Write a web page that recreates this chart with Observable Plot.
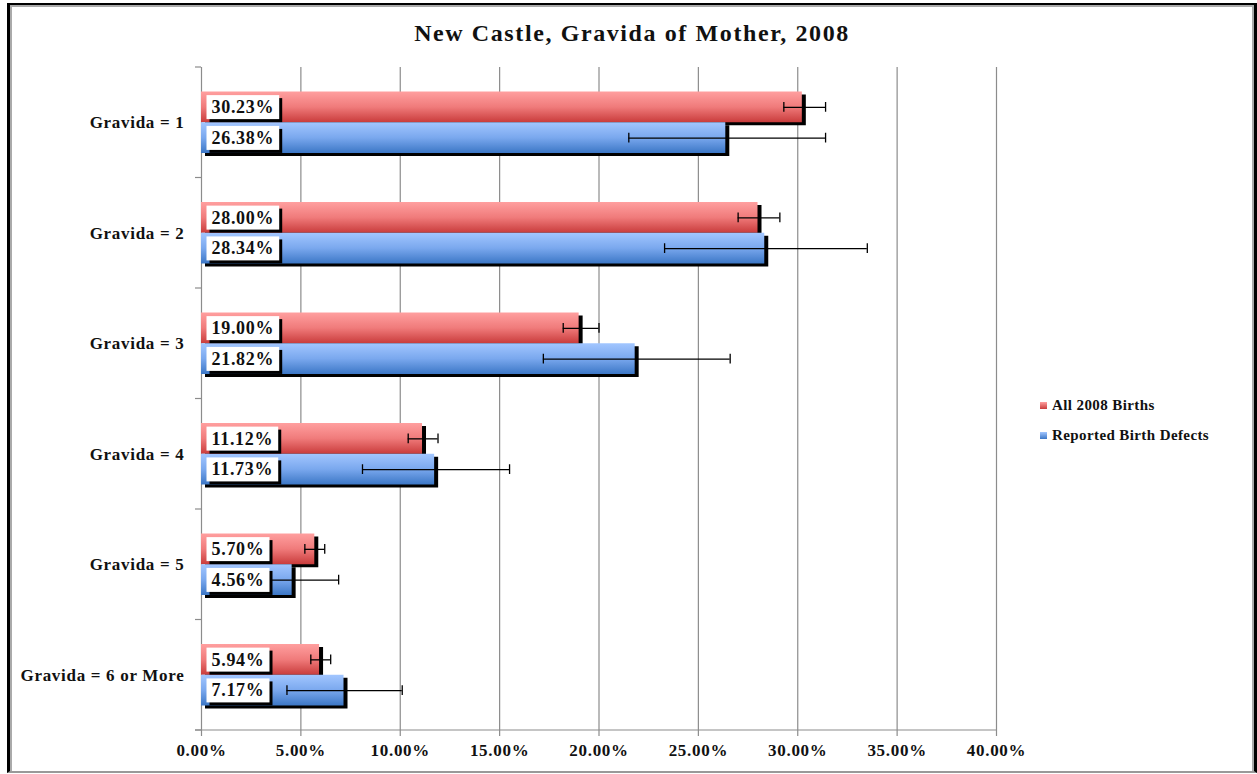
<!DOCTYPE html>
<html>
<head>
<meta charset="utf-8">
<script src="https://cdn.jsdelivr.net/npm/d3@7"></script>
<script src="https://cdn.jsdelivr.net/npm/@observablehq/plot@0.6"></script>
<style>
  html, body { margin: 0; padding: 0; background: #fff; }
  body { width: 1257px; height: 774px; position: relative; overflow: hidden; font-family: "Liberation Serif", "Times New Roman", serif; }
  #chart { position: absolute; left: 0; top: 0; }
  #title { position: absolute; left: 0; top: 19px; width: 1264px; text-align: center; font-size: 24px; font-weight: bold; letter-spacing: 1.6px; color: #111; line-height: 28px; }
  #legend { position: absolute; left: 1040px; top: 390px; color: #111; font-size: 15px; font-weight: bold; letter-spacing: 0.4px; }
  #legend .item { display: flex; align-items: center; height: 30px; line-height: 20px; }
  #legend .sw { width: 7px; height: 7px; margin-right: 5px; }
  #frame { position: absolute; left: 7px; top: 3px; width: 1250px; height: 770px; box-sizing: border-box;
           border-left: 3px solid #000; border-top: 2px solid #000; border-right: 3px solid #000; border-bottom: 2px solid #999; pointer-events: none; }
  #frame::after { content: ""; position: absolute; left: 0; top: 0; right: 0; bottom: 0;
           border-left: 2px solid #aaa; border-top: 2px solid #aaa; border-right: 2px solid #aaa; }
</style>
</head>
<body>
<div id="chart"></div>
<div id="title">New Castle, Gravida of Mother, 2008</div>
<div id="legend"></div>
<div id="frame"></div>
<script>
// ---- data ----
const categories = ["Gravida = 1", "Gravida = 2", "Gravida = 3", "Gravida = 4", "Gravida = 5", "Gravida = 6 or More"];
const seriesNames = ["All 2008 Births", "Reported Birth Defects"];
const allBirths      = [30.23, 28.00, 19.00, 11.12, 5.70, 5.94];
const allBirthsLow   = [29.30, 27.00, 18.20, 10.40, 5.20, 5.50];
const allBirthsHigh  = [31.40, 29.10, 20.00, 11.90, 6.20, 6.50];
const birthDefects     = [26.38, 28.34, 21.82, 11.73, 4.56, 7.17];
const birthDefectsLow  = [21.50, 23.30, 17.20, 8.10, 3.50, 4.30];
const birthDefectsHigh = [31.40, 33.50, 26.60, 15.50, 6.90, 10.10];
const xTicks = [0, 0.05, 0.10, 0.15, 0.20, 0.25, 0.30, 0.35, 0.40];

// ---- table ----
const seriesData = [
  {name: seriesNames[0], values: allBirths, low: allBirthsLow, high: allBirthsHigh},
  {name: seriesNames[1], values: birthDefects, low: birthDefectsLow, high: birthDefectsHigh}
];
const rows = seriesData.flatMap(s => categories.map((c, i) => ({
  cat: c, series: s.name, value: s.values[i] / 100, low: s.low[i] / 100, high: s.high[i] / 100
})));

// ---- styles ----
const style = {
  [seriesNames[0]]: {grad: "gradRed",  insetTop: 24.5,  insetBottom: 55.25, dy: -15.4, stops: ["#ff9f9f", "#f07b7b", "#c93c3c"]},
  [seriesNames[1]]: {grad: "gradBlue", insetTop: 55.25, insetBottom: 24.5,  dy: 15.4,  stops: ["#a2c6ff", "#7aa8ee", "#3c77c6"]}
};
const ns = "http://www.w3.org/2000/svg";
const serif = "Liberation Serif, Times New Roman, serif";
const LABEL_FILL = "#101010";

function defsMark() {
  const g = document.createElementNS(ns, "g");
  const defs = document.createElementNS(ns, "defs");
  for (const name of seriesNames) {
    const s = style[name];
    const lg = document.createElementNS(ns, "linearGradient");
    lg.setAttribute("id", s.grad);
    lg.setAttribute("x1", "0"); lg.setAttribute("y1", "0");
    lg.setAttribute("x2", "0"); lg.setAttribute("y2", "1");
    s.stops.forEach((col, k) => {
      const st = document.createElementNS(ns, "stop");
      st.setAttribute("offset", (k / (s.stops.length - 1) * 100) + "%");
      st.setAttribute("stop-color", col);
      lg.appendChild(st);
    });
    defs.appendChild(lg);
  }
  g.appendChild(defs);
  return g;
}

function axisDecor(index, scales, values, dims) {
  const {width, height, marginTop, marginBottom, marginLeft, marginRight} = dims;
  const g = document.createElementNS(ns, "g");
  const line = (x1, y1, x2, y2) => {
    const l = document.createElementNS(ns, "line");
    l.setAttribute("x1", x1); l.setAttribute("y1", y1);
    l.setAttribute("x2", x2); l.setAttribute("y2", y2);
    l.setAttribute("stroke", "#8c8c8c"); l.setAttribute("stroke-width", 1.2);
    g.appendChild(l);
  };
  const yb = height - marginBottom;
  line(marginLeft - 6, yb, width - marginRight, yb);
  const step = (height - marginTop - marginBottom) / categories.length;
  for (let k = 0; k <= categories.length; k++) {
    const y = marginTop + k * step;
    line(marginLeft - 6, y, marginLeft, y);
  }
  return g;
}

const seriesMarks = seriesNames.flatMap(name => {
  const s = style[name];
  const data = rows.filter(d => d.series === name);
  return [
    Plot.barX(data, {x: "value", y: "cat", fill: "#000", dx: 4, dy: 3, insetTop: s.insetTop, insetBottom: s.insetBottom}),
    Plot.barX(data, {x: "value", y: "cat", fill: `url(#${s.grad})`, insetTop: s.insetTop, insetBottom: s.insetBottom})
  ];
});

const errorMarks = seriesNames.flatMap(name => {
  const s = style[name];
  const data = rows.filter(d => d.series === name);
  const capTop = s.insetTop + 15.5 - 5;
  const capBottom = s.insetBottom + 15.5 - 5;
  return [
    Plot.ruleY(data, {y: "cat", x1: "low", x2: "high", dy: s.dy, stroke: "#000", strokeWidth: 1.3}),
    Plot.tickX(data, {x: "low", y: "cat", insetTop: capTop, insetBottom: capBottom, stroke: "#000", strokeWidth: 1.3}),
    Plot.tickX(data, {x: "high", y: "cat", insetTop: capTop, insetBottom: capBottom, stroke: "#000", strokeWidth: 1.3})
  ];
});

const labelMarks = seriesNames.map(name => {
  const s = style[name];
  const data = rows.filter(d => d.series === name);
  return Plot.text(data, {
    y: "cat", frameAnchor: "left", textAnchor: "start", dx: 10, dy: s.dy,
    text: d => d3.format(".2f")(d.value * 100) + "%",
    fontSize: 18, fontWeight: "bold", fill: LABEL_FILL
  });
});

const chart = Plot.plot({
  width: 1257,
  height: 774,
  marginLeft: 201,
  marginRight: 261,
  marginTop: 67,
  marginBottom: 44,
  style: {background: "transparent", fontFamily: serif, fontSize: "17px", fontWeight: "bold", color: "#111", overflow: "visible", letterSpacing: "0.7px"},
  x: {domain: [0, 0.40], ticks: xTicks, tickFormat: d3.format(".2%"), tickSize: 0, tickPadding: 13, label: null},
  y: {domain: categories, padding: 0, round: false, tickSize: 0, tickPadding: 17, label: null},
  marks: [
    defsMark,
    Plot.ruleX(xTicks, {stroke: "#8c8c8c", strokeWidth: 1.2, insetBottom: -6}),
    axisDecor,
    ...seriesMarks,
    ...errorMarks,
    ...labelMarks
  ]
});
document.getElementById("chart").appendChild(chart);

// white label boxes with drop shadow behind the value labels
const svgRect = chart.getBoundingClientRect();
const labelTexts = Array.from(chart.querySelectorAll("text")).filter(t => {
  const own = t.getAttribute("fill");
  const grp = t.closest("g[fill]");
  return own === LABEL_FILL || (grp && grp.getAttribute("fill") === LABEL_FILL);
});
if (labelTexts.length) {
  const boxes = document.createElementNS(ns, "g");
  labelTexts.forEach(t => {
    const r = t.getBoundingClientRect();
    const x = r.left - svgRect.left - 5;
    const w = r.width + 10;
    const cy = r.top - svgRect.top + r.height / 2;
    const y = cy - 12;
    const sh = document.createElementNS(ns, "rect");
    sh.setAttribute("x", x + 3); sh.setAttribute("y", y + 3);
    sh.setAttribute("width", w); sh.setAttribute("height", 24);
    sh.setAttribute("fill", "#000");
    const bx = document.createElementNS(ns, "rect");
    bx.setAttribute("x", x); bx.setAttribute("y", y);
    bx.setAttribute("width", w); bx.setAttribute("height", 24);
    bx.setAttribute("fill", "#fff");
    boxes.appendChild(sh); boxes.appendChild(bx);
  });
  const firstGroup = labelTexts[0].closest("g[fill]") || labelTexts[0].parentNode;
  firstGroup.parentNode.insertBefore(boxes, firstGroup);
}

// legend
const legend = document.getElementById("legend");
seriesNames.forEach(name => {
  const s = style[name];
  const item = document.createElement("div");
  item.className = "item";
  const sw = document.createElement("span");
  sw.className = "sw";
  sw.style.background = `linear-gradient(${s.stops[0]}, ${s.stops[2]})`;
  const label = document.createElement("span");
  label.textContent = name;
  item.appendChild(sw); item.appendChild(label);
  legend.appendChild(item);
});
</script>
</body>
</html>
